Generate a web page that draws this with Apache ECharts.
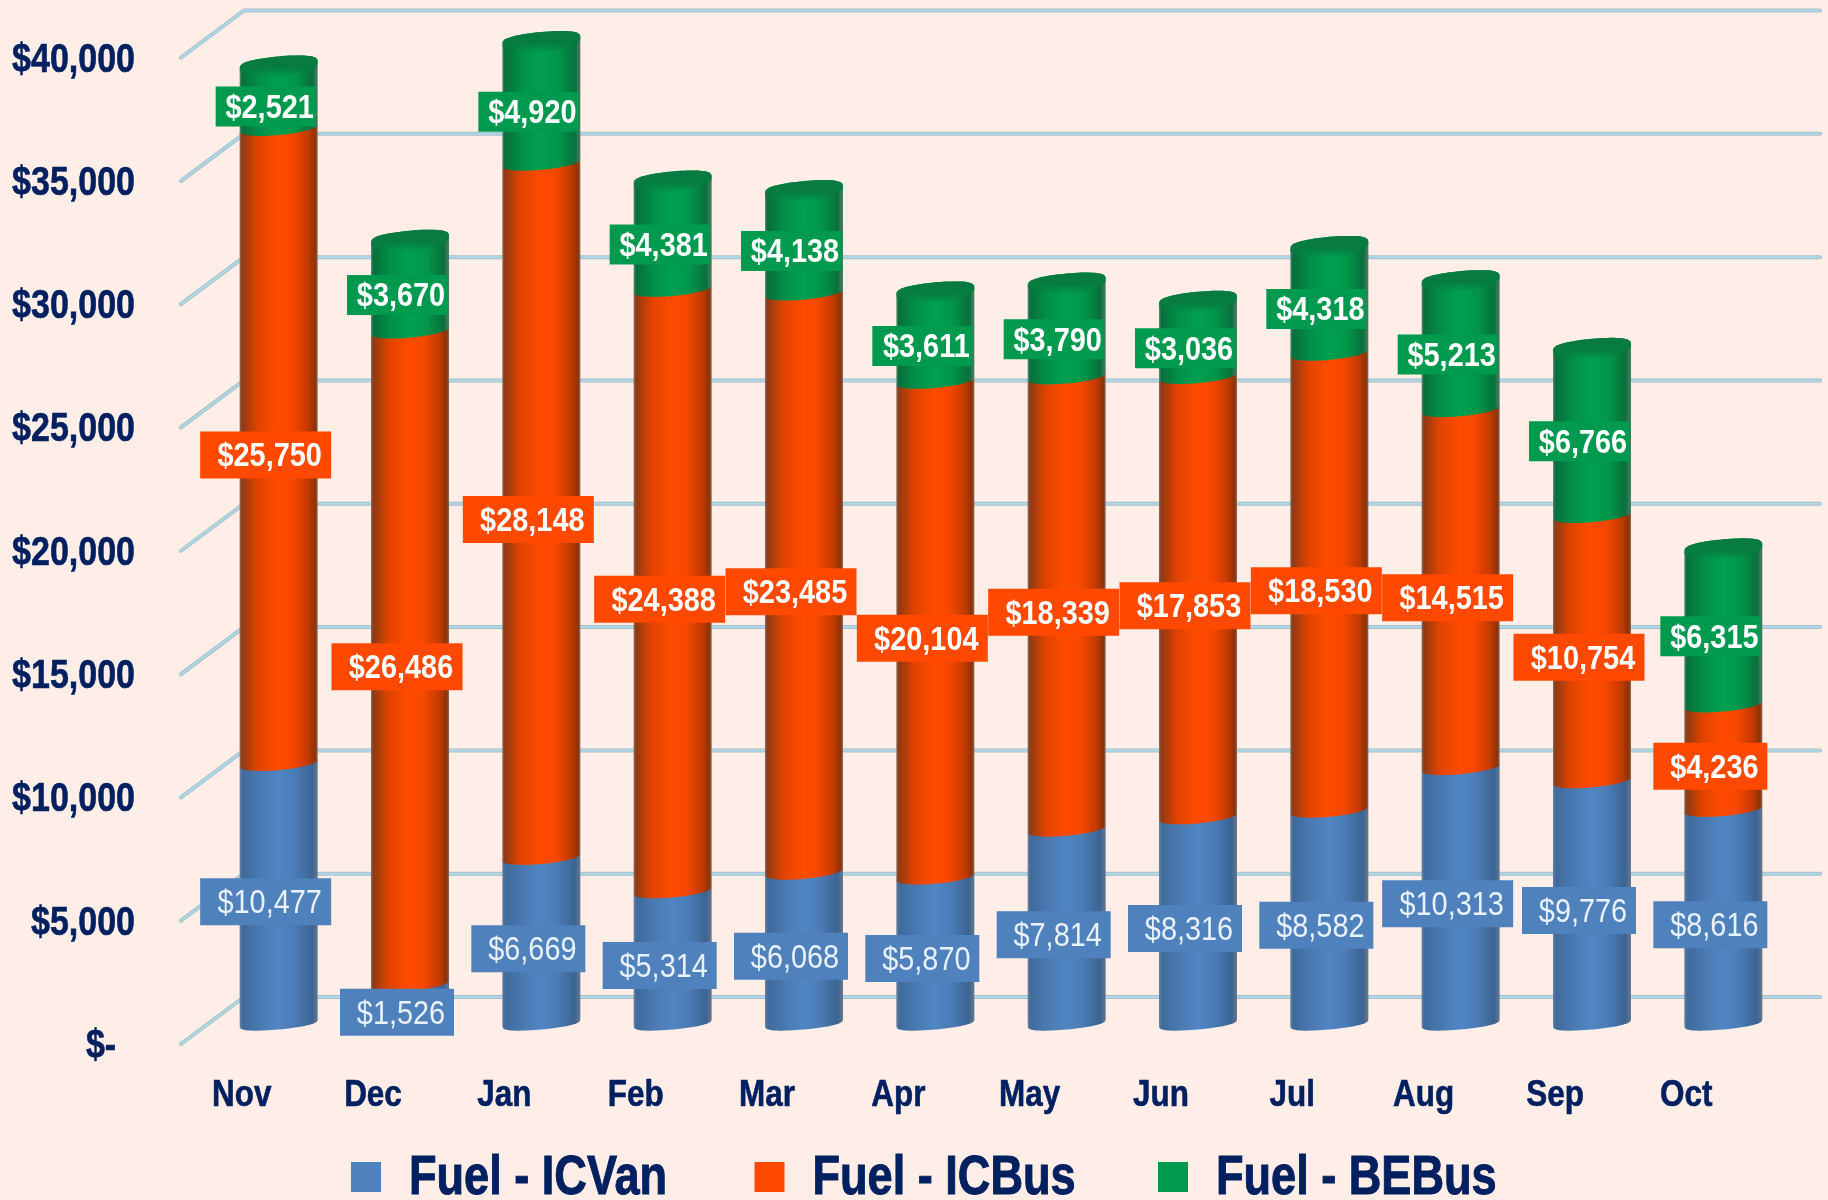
<!DOCTYPE html>
<html>
<head>
<meta charset="utf-8">
<title>Fuel cost by month</title>
<script src="https://cdn.jsdelivr.net/npm/echarts@6/dist/echarts.min.js"></script>
<style>
  html, body { margin: 0; padding: 0; background: #FFEEE7; }
  #chart { width: 1828px; height: 1200px; }
</style>
</head>
<body>
<div id="chart"></div>
<script>
// values
const months = ['Nov', 'Dec', 'Jan', 'Feb', 'Mar', 'Apr', 'May', 'Jun', 'Jul', 'Aug', 'Sep', 'Oct']
const icVan = [10477, 1526, 6669, 5314, 6068, 5870, 7814, 8316, 8582, 10313, 9776, 8616]
const icBus = [25750, 26486, 28148, 24388, 23485, 20104, 18339, 17853, 18530, 14515, 10754, 4236]
const beBus = [2521, 3670, 4920, 4381, 4138, 3611, 3790, 3036, 4318, 5213, 6766, 6315]
const yTicks = [0, 5000, 10000, 15000, 20000, 25000, 30000, 35000, 40000]
const seriesNames = ['Fuel - ICVan', 'Fuel - ICBus', 'Fuel - BEBus']

const NAVY = '#002060'
const FONT = '"Liberation Sans", sans-serif'
// no Arial Narrow here, so the text is squeezed sideways to get the same look
const NARROW = 0.85
const LEGEND_NARROW = 0.82

// 3D look: offsets from the front plane of the axis
const DEPTH_X = 63
const DEPTH_Y = 47
const BAR_DX = 37
const BAR_DY = 22
const ELLIPSE_TILT = 3.5
const ELLIPSE_B = 6.5
const CAP_B = 10

const money = v => '$' + Math.round(v).toLocaleString('en-US')

function vGradient (stops) {
  return new echarts.graphic.LinearGradient(0, 0, 1, 0, stops.map(c => ({ offset: c[0], color: c[1] })))
}

const looks = [
  {
    color: '#4F81BD',
    text: '#E9F1FA',
    weight: 'normal',
    boxH: 47,
    body: [[0, '#66809c'], [0.04, '#3f6a9c'], [0.25, '#4a79b1'], [0.5, '#5086c4'], [0.7, '#4b7cb6'], [0.93, '#3c6493'], [1, '#66788c']]
  },
  {
    color: '#FF4800',
    text: '#ffffff',
    weight: 'bold',
    boxH: 47,
    body: [[0, '#8a6a5c'], [0.03, '#8f3a14'], [0.22, '#de4300'], [0.48, '#ff4b00'], [0.68, '#f64700'], [0.88, '#c23a00'], [0.97, '#8a3208'], [1, '#8a6a5c']]
  },
  {
    color: '#009A4E',
    text: '#ffffff',
    weight: 'bold',
    boxH: 40,
    body: [[0, '#5e8a74'], [0.03, '#086e3c'], [0.25, '#019047'], [0.5, '#00a04f'], [0.72, '#019549'], [0.93, '#08703c'], [1, '#4f7d66']]
  }
]

function labelWidth (seriesIdx, value) {
  if (seriesIdx === 2) return 100
  return value >= 10000 ? 131 : 114
}

// half ellipse from the left edge to the right edge; b>0 front, b<0 back.
// round < 1 makes the ends fuller, like the rounded tops of the cylinders
function arc (cx, cy, a, b, round) {
  const pts = []
  for (let k = 0; k <= 32; k++) {
    const t = Math.PI * (1 - k / 32)
    pts.push([cx + a * Math.cos(t), cy - ELLIPSE_TILT * Math.cos(t) + b * Math.pow(Math.sin(t), round)])
  }
  return pts
}

function renderSegment (seriesIdx) {
  const look = looks[seriesIdx]
  return function (params, api) {
    const cat = api.value(0)
    const base = api.value(1)
    const top = api.value(2)
    const band = api.size([1, 0])[0]
    const a = band * 0.594 / 2
    const pBase = api.coord([cat, base])
    const pTop = api.coord([cat, top])
    const cx = pBase[0] + BAR_DX
    const yBase = pBase[1] - BAR_DY
    const yTop = pTop[1] - BAR_DY
    const lower = seriesIdx === 0 ? arc(cx, yBase, a, ELLIPSE_B + 1, 0.6) : arc(cx, yBase, a, ELLIPSE_B, 1)
    const upper = (seriesIdx === 2 ? arc(cx, yTop, a, -CAP_B, 0.55) : arc(cx, yTop, a, -ELLIPSE_B, 1)).reverse()
    const children = [{
      type: 'polygon',
      shape: { points: lower.concat(upper) },
      style: { fill: vGradient(look.body) }
    }]
    if (seriesIdx === 2) {
      // darker top of the cylinder, its front edge fades into the body
      children.push({
        type: 'polygon',
        shape: { points: arc(cx, yTop, a, ELLIPSE_B + 4, 1).concat(arc(cx, yTop, a, -CAP_B, 0.55).reverse()) },
        style: {
          fill: new echarts.graphic.LinearGradient(0, 0, 0, 1, [
            { offset: 0, color: '#0a7a41' },
            { offset: 0.55, color: '#067c41' },
            { offset: 1, color: 'rgba(4,130,66,0)' }
          ])
        }
      })
    }
    // value box sits on the front plane, above the other bars
    const mid = api.coord([cat, (base + top) / 2])
    const value = top - base
    const w = labelWidth(seriesIdx, value)
    children.push({
      type: 'rect',
      z2: 100,
      shape: { x: mid[0] + 24 - w / 2, y: mid[1] - 13 - look.boxH / 2, width: w, height: look.boxH },
      style: { fill: look.color }
    })
    children.push({
      type: 'text',
      z2: 101,
      x: mid[0] + 28,
      y: mid[1] - 11,
      scaleX: NARROW,
      style: {
        text: money(value),
        fill: look.text,
        font: look.weight + ' 34px ' + FONT,
        textAlign: 'center',
        textVerticalAlign: 'middle'
      }
    })
    return { type: 'group', children }
  }
}

function renderWall (params, api) {
  const rect = params.coordSys
  const v = api.value(0)
  const y = api.coord([0, v])[1]
  const x0 = rect.x + 5
  const x1 = x0 + DEPTH_X
  const x2 = rect.x + rect.width + 68
  const pts = [[x0, y], [x1, y - DEPTH_Y], [x2, y - DEPTH_Y]]
  return {
    type: 'group',
    children: [
      { type: 'polyline', shape: { points: pts }, style: { fill: 'none', stroke: '#A9BEC6', lineWidth: 4, lineCap: 'round', lineJoin: 'round' } },
      { type: 'polyline', shape: { points: pts }, style: { fill: 'none', stroke: '#ADDAEA', lineWidth: 2, lineCap: 'round', lineJoin: 'round' } },
      {
        type: 'text',
        x: rect.x - 41,
        y: y + 3,
        scaleX: NARROW,
        style: {
          text: v === 0 ? '$-  ' : money(v),
          fill: NAVY,
          stroke: NAVY,
          lineWidth: 0.6,
          font: 'bold 40px ' + FONT,
          textAlign: 'right',
          textVerticalAlign: 'middle'
        }
      }
    ]
  }
}

function renderMonth (params, api) {
  const p = api.coord([api.value(0), 0])
  return {
    type: 'text',
    x: p[0],
    y: p[1] + 52,
    scaleX: NARROW,
    style: {
      text: months[api.value(0)],
      fill: NAVY,
      stroke: NAVY,
      lineWidth: 0.6,
      font: 'bold 37px ' + FONT,
      textAlign: 'center',
      textVerticalAlign: 'middle'
    }
  }
}

function stackRows (lower, values) {
  return values.map((v, i) => [i, lower[i], lower[i] + v])
}

const zeros = months.map(() => 0)
const afterVan = icVan.slice()
const afterBus = icVan.map((v, i) => v + icBus[i])

const legendLeft = 351
const legendStep = 403.5

const chart = echarts.init(document.getElementById('chart'))
chart.setOption({
  backgroundColor: '#FFEEE7',
  animation: false,
  grid: { left: 176, top: 57.5, width: 1576, height: 986.5, outerBoundsMode: 'none' },
  legend: {
    data: seriesNames,
    left: legendLeft,
    top: 1162,
    padding: 0,
    icon: 'rect',
    itemWidth: 30,
    itemHeight: 30,
    itemGap: legendStep - 30,
    formatter: () => '',
    textStyle: { fontSize: 12 }
  },
  // legend names, squeezed like the rest of the text
  graphic: seriesNames.map((name, i) => ({
    type: 'text',
    x: legendLeft + 58 + i * legendStep,
    y: 1179,
    scaleX: LEGEND_NARROW,
    style: {
      text: name,
      fill: NAVY,
      stroke: NAVY,
      lineWidth: 1,
      font: 'bold 55px ' + FONT,
      textAlign: 'left',
      textVerticalAlign: 'middle'
    }
  })),
  xAxis: {
    type: 'category',
    data: months,
    axisLine: { show: false },
    axisTick: { show: false },
    axisLabel: { show: false }
  },
  yAxis: {
    type: 'value',
    min: 0,
    max: 40000,
    interval: 5000,
    axisLine: { show: false },
    axisTick: { show: false },
    splitLine: { show: false },
    axisLabel: { show: false }
  },
  series: [
    {
      name: 'wall',
      type: 'custom',
      z: 1,
      silent: true,
      coordinateSystem: 'cartesian2d',
      encode: { y: 0 },
      data: yTicks.map(v => [v]),
      clip: false,
      renderItem: renderWall
    },
    {
      name: 'months',
      type: 'custom',
      z: 1,
      silent: true,
      coordinateSystem: 'cartesian2d',
      encode: { x: 0 },
      data: months.map((m, i) => [i]),
      clip: false,
      renderItem: renderMonth
    }
  ].concat([stackRows(zeros, icVan), stackRows(afterVan, icBus), stackRows(afterBus, beBus)].map((rows, idx) => ({
    name: seriesNames[idx],
    type: 'custom',
    z: 2,
    coordinateSystem: 'cartesian2d',
    itemStyle: { color: looks[idx].color },
    encode: { x: 0, y: 2 },
    data: rows,
    clip: false,
    renderItem: renderSegment(idx)
  })))
})
</script>
</body>
</html>
